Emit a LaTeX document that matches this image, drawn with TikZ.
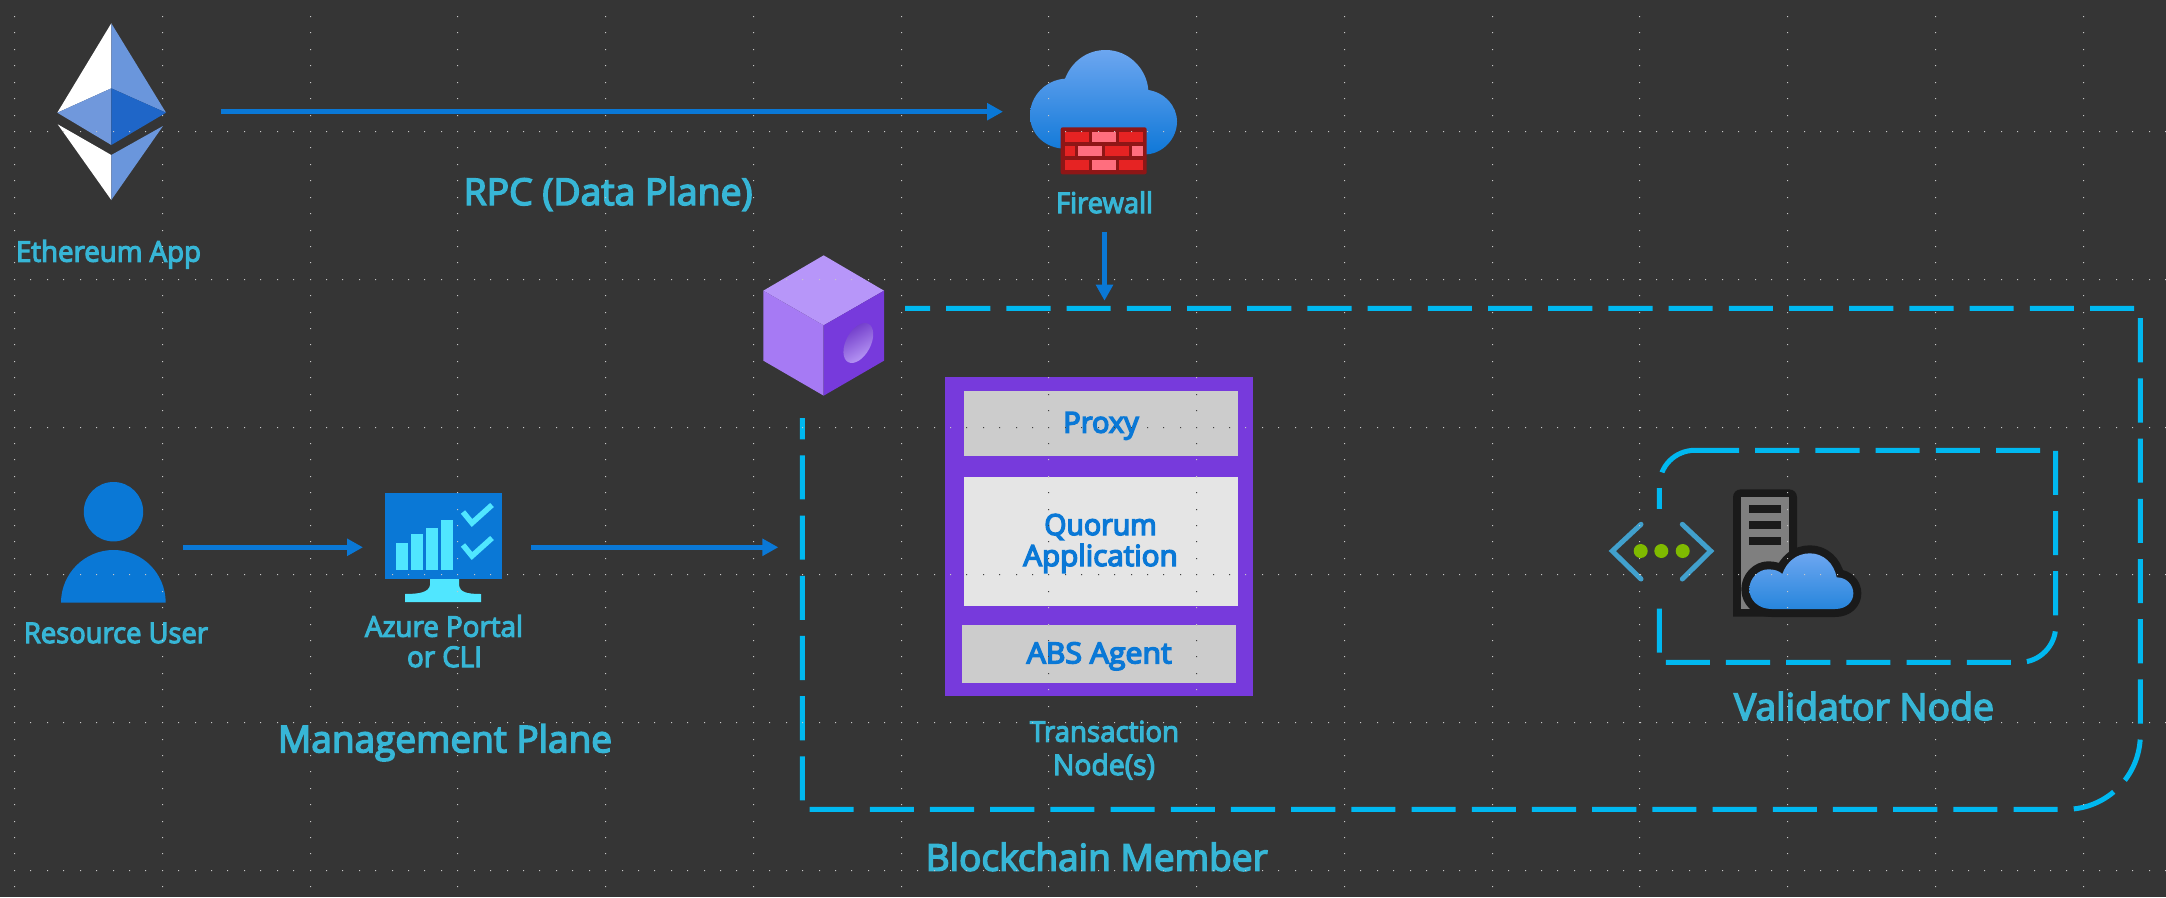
\documentclass[tikz,border=0pt]{standalone}
\usepackage{fontspec}
\usepackage{graphicx}
\setmainfont{Open Sans}[RawFeature={embolden=4}]
\newfontfamily\boxfont{Open Sans}[RawFeature={embolden=5}]
\usetikzlibrary{arrows.meta}
\definecolor{bgc}{HTML}{353535}
\definecolor{labelc}{HTML}{37B6D6}
\definecolor{azure}{HTML}{0A78D6}
\definecolor{dashc}{HTML}{00B8F0}
\definecolor{purp}{HTML}{773ADC}
\definecolor{purpL}{HTML}{A67AF4}
\definecolor{purpT}{HTML}{B796F9}
\definecolor{cyanb}{HTML}{50E6FF}
\definecolor{ethA}{HTML}{6A96DC}
\definecolor{ethB}{HTML}{7098DC}
\definecolor{ethC}{HTML}{1F66C8}
\definecolor{brickF}{HTML}{8E1616}
\definecolor{brickR}{HTML}{E62323}
\definecolor{brickP}{HTML}{FF6E7E}
\definecolor{cloudT}{HTML}{6CA6F0}
\definecolor{cloudB}{HTML}{0F78D8}
\definecolor{srvD}{HTML}{1A1A1A}
\definecolor{srvG}{HTML}{7F7F7F}
\definecolor{chev}{HTML}{41A0CD}
\definecolor{dotg}{HTML}{7FBA00}
\newcommand{\fitw}[2]{\resizebox{#1pt}{\height}{#2}}
\newcommand{\griddots}{%
  \foreach \j in {0,...,5}{\foreach \i in {0,...,131}{
    ({round(14+16.42*\i)},{round(131+147.8*\j)}) rectangle ++(1,1)
  }}
  \foreach \k in {0,...,14}{\foreach \i in {-7,...,46}{
    ({round(14+147.77*\k)},{round(131+16.42*\i)}) rectangle ++(1,1)
  }}
}
\tikzset{
  lblbase/.style={inner sep=0pt,outer sep=0pt,anchor=base west,text=labelc},
  lblS/.style={lblbase,font=\fontsize{28.5}{30}\selectfont},
  lblL/.style={lblbase,font=\fontsize{37}{40}\selectfont},
  lblB/.style={inner sep=0pt,outer sep=0pt,anchor=base west,text=azure,font=\boxfont\fontsize{29}{30}\selectfont},
  ghost/.style={inner sep=0pt,outer sep=0pt,draw=none,fill=none},
  flow/.style={draw=azure,line width=5.3pt,-{Triangle[length=16pt,width=16.5pt]}},
  member/.style={draw=dashc,line width=5pt,line cap=butt,dash pattern=on 44.1pt off 16.1pt},
}
\begin{document}
\begin{tikzpicture}[x=1pt,y=-1pt]
\useasboundingbox (0,0) rectangle (2166,897);
\fill[bgc] (0,0) rectangle (2166,897);

% Ethereum logo
\fill[white] (111.3,23.3) -- (57.3,112.7) -- (111.3,88.3) -- cycle;
\fill[ethA] (111.3,23.3) -- (166,112.7) -- (111.3,88.3) -- cycle;
\fill[ethB] (57.3,112.7) -- (111.3,88.3) -- (111.3,145) -- cycle;
\fill[ethC] (166,112.7) -- (111.3,88.3) -- (111.3,145) -- cycle;
\fill[white] (57.7,124.3) -- (111.3,155) -- (111.3,200) -- cycle;
\fill[ethA] (163,126) -- (111.3,155) -- (111.3,200) -- cycle;
\node[ghost,minimum width=109pt,minimum height=177pt] (eth) at (111.5,111.7) {};
\node[lblS] (ethlabel) at (16,261.7) {\fitw{185}{Ethereum App}};

% Firewall
\begin{scope}[shift={(960,20)},scale=0.33333]
\shade[top color=cloudT,bottom color=cloudB] (300,385) .. controls (250,378) and (210,340) .. (210,285) .. controls (210,230) and (255,180) .. (315,176) .. controls (335,125) and (380,90) .. (437,90) .. controls (505,90) and (560,145) .. (565,210) .. controls (615,218) and (651,258) .. (651,305) .. controls (651,355) and (610,400) .. (560,403) -- cycle;
\fill[brickF,rounded corners=2pt] (302,322) rectangle (560,463);
\fill[brickR] (315,335) rectangle (386,366);
\fill[brickP] (395,335) rectangle (467,366);
\fill[brickR] (476,335) rectangle (549,366);
\fill[brickR] (315,377) rectangle (345,408);
\fill[brickP] (355,377) rectangle (426,408);
\fill[brickR] (435,377) rectangle (508,408);
\fill[brickP] (517,377) rectangle (549,408);
\fill[brickR] (315,419) rectangle (386,450);
\fill[brickP] (395,419) rectangle (467,450);
\fill[brickR] (476,419) rectangle (549,450);
\end{scope}
\node[ghost,minimum width=147pt,minimum height=104pt] (fw) at (1103.5,111.7) {};
\node[lblS] (fwlabel) at (1056,213) {\fitw{97}{Firewall}};

% RPC label
\node[lblL] (rpc) at (463.6,205) {\fitw{289}{RPC (Data Plane)}};

% Outer dashed region
\node[ghost,minimum width=1338pt,minimum height=501pt] (memberbox) at (1471.3,558.8) {};
\draw[member,dash phase=19pt] (905,308.3) -- (2140.3,308.3) -- (2140.3,735) .. controls (2140.3,775.9) and (2106.9,809.3) .. (2066,809.3) -- (802.3,809.3) -- (802.3,418);

% Cube
\begin{scope}[shift={(730,230)},scale=0.33333]
\fill[purpT] (281,76) -- (462,182) -- (281,286) -- (100,182) -- cycle;
\fill[purpL] (100,182) -- (281,286) -- (281,497) -- (100,392) -- cycle;
\fill[purp] (462,182) -- (281,286) -- (281,497) -- (462,392) -- cycle;
\shade[left color=purp!90!black,right color=purpT!90!white,shading angle=30,rotate around={-28:(385,339)}] (385,339) ellipse [x radius=37,y radius=65];
\end{scope}

% Transaction node stack
\fill[purp] (945,377) rectangle (1253,695.7);
\fill[black!20] (964,391) rectangle (1238,456);
\fill[black!10] (964,477) rectangle (1238,606);
\fill[black!20] (962,625) rectangle (1236,682.7);
\node[lblB] (proxy) at (1063.3,432.7) {\fitw{75.4}{Proxy}};
\node[lblB] (quorum) at (1044.3,535) {\fitw{112.4}{Quorum}};
\node[lblB] (application) at (1023.3,566) {\fitw{154.4}{Application}};
\node[lblB] (abs) at (1026.7,663.3) {\fitw{145}{ABS Agent}};
\node[lblS] (tx1) at (1030,741.7) {\fitw{149}{Transaction}};
\node[lblS] (tx2) at (1053,775) {\fitw{102}{Node(s)}};
\node[lblL] (bc) at (925.7,870.7) {\fitw{342}{Blockchain Member}};

% Validator dashed region
\draw[member] (1695,450.3) -- (2055.7,450.3) -- (2055.7,626) .. controls (2055.7,645.9) and (2039.6,662.3) .. (2019.7,662.3) -- (1659.3,662.3) -- (1659.3,486) .. controls (1659.3,466.1) and (1675.1,450.3) .. (1695,450.3) -- cycle;
\fill[bgc] (1640,509) rectangle (1680,600);

% Validator icons
\draw[line width=5pt,line cap=round,draw=chev] (1641,524.3) -- (1612.3,551) -- (1641,579);
\draw[line width=5pt,line cap=round,draw=chev] (1682.3,524.3) -- (1710.7,551) -- (1682.3,579);
\fill[dotg] (1640.7,551) circle [radius=7pt];
\fill[dotg] (1661.3,551) circle [radius=7pt];
\fill[dotg] (1682.7,551) circle [radius=7pt];
\begin{scope}[shift={(1580,430)},scale=0.33333]
\fill[srvD] (459,560) -- (459,202) .. controls (459,188) and (469,178) .. (483,178) -- (627,178) .. controls (641,178) and (651,188) .. (651,202) -- (651,560) -- cycle;
\fill[srvG] (483,202) rectangle (627,537);
\fill[srvD] (507,226) rectangle (603,249);
\fill[srvD] (507,274) rectangle (603,297);
\fill[srvD] (507,322) rectangle (603,345);
\filldraw[draw=srvD,line width=16pt,line join=round,fill=srvD] (575,537) .. controls (535,537) and (508,510) .. (508,478) .. controls (508,445) and (535,418) .. (565,418) .. controls (582,418) and (597,422) .. (607,432) .. controls (620,395) and (650,370) .. (690,370) .. controls (730,370) and (762,400) .. (770,442) .. controls (800,442) and (820,465) .. (820,490) .. controls (820,515) and (800,537) .. (765,537) -- cycle;
\shade[top color=cloudT,bottom color=cloudB!90!white] (575,537) .. controls (535,537) and (508,510) .. (508,478) .. controls (508,445) and (535,418) .. (565,418) .. controls (582,418) and (597,422) .. (607,432) .. controls (620,395) and (650,370) .. (690,370) .. controls (730,370) and (762,400) .. (770,442) .. controls (800,442) and (820,465) .. (820,490) .. controls (820,515) and (800,537) .. (765,537) -- cycle;
\end{scope}
\node[lblL] (validator) at (1734,720) {\fitw{260}{Validator Node}};

% Resource user
\fill[azure] (113.5,511.7) circle [radius=29.7pt];
\fill[azure] (61,602.7) .. controls (61,573.6) and (84.6,550) .. (113.5,550) .. controls (142.4,550) and (165.7,573.6) .. (165.7,602.7) -- cycle;
\node[ghost,minimum width=105pt,minimum height=110pt] (user) at (113.5,547.3) {};
\node[lblS] (userlabel) at (24,643) {\fitw{184}{Resource User}};

% Portal
\fill[cyanb] (430,575) -- (459,575) -- (459,585) .. controls (460,592) and (466,594) .. (481,594) -- (481,602) -- (405,602) -- (405,594) .. controls (420,594) and (429,592) .. (430,585) -- cycle;
\fill[azure] (385,493) rectangle (502,579);
\fill[cyanb] (396,543) rectangle (408,570);
\fill[cyanb] (411,534) rectangle (423,570);
\fill[cyanb] (426,528) rectangle (438,570);
\fill[cyanb] (441,520) rectangle (453,570);
\draw[cyanb,line width=5.5pt] (463,512) -- (472,523) -- (492,505);
\draw[cyanb,line width=5.5pt] (463,545) -- (472,556) -- (492,538);
\node[ghost,minimum width=117pt,minimum height=110pt] (portal) at (443.5,547.3) {};
\node[lblS] (portal1) at (365,636.7) {\fitw{158}{Azure Portal}};
\node[lblS] (portal2) at (407,667) {\fitw{75}{or CLI}};
\node[lblL] (mgmt) at (278,752.3) {\fitw{334}{Management Plane}};

% Connectors
\draw[flow,shorten <=55pt,shorten >=27pt] (eth.east) -- (fw.west);
\draw[flow,shorten <=19pt,shorten >=7.6pt] (fwlabel.south) -- (fwlabel.south |- memberbox.north);
\draw[flow,shorten <=17pt,shorten >=22pt] (user.east) -- (portal.west);
\draw[flow,shorten <=29.4pt,shorten >=24pt] (portal.east) -- (portal.east -| memberbox.west);

% Canvas grid dots, on top of everything
\fill[white!78!black] \griddots;
\begin{scope}
\clip (964,391) rectangle (1238,456) (964,477) rectangle (1238,606) (962,625) rectangle (1236,682.7);
\fill[black!75] \griddots;
\end{scope}
\end{tikzpicture}
\end{document}
